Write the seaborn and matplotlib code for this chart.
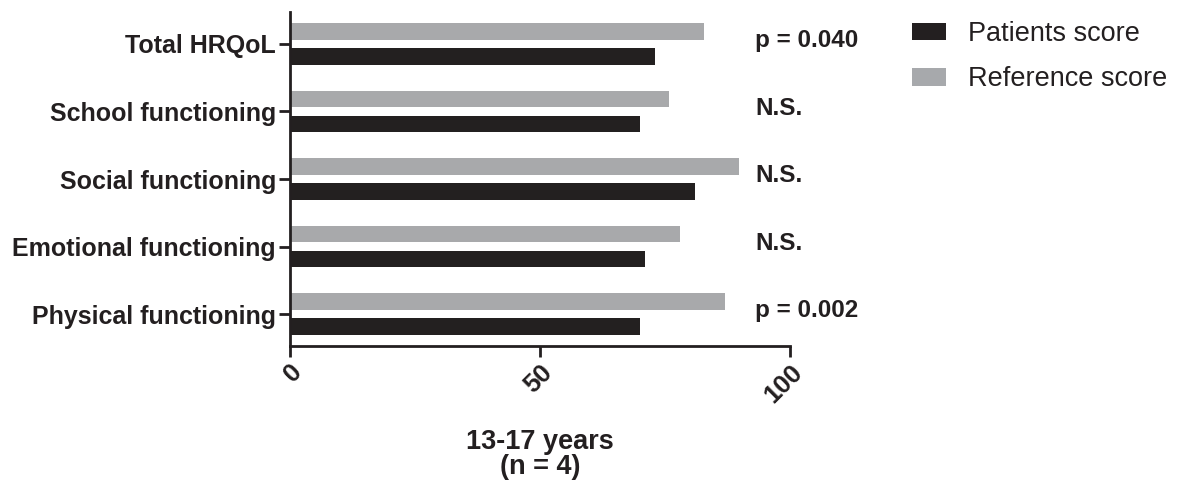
import matplotlib
matplotlib.use("Agg")
import matplotlib.pyplot as plt
import matplotlib.transforms as mtransforms
import seaborn as sns
import pandas as pd
from matplotlib.patches import Patch

categories = ["Total HRQoL", "School functioning", "Social functioning",
              "Emotional functioning", "Physical functioning"]
patients_score = [72.9, 69.9, 80.9, 70.9, 69.9]
reference_score = [82.8, 75.8, 89.8, 77.9, 86.9]
annotations = ["p = 0.040", "N.S.", "N.S.", "N.S.", "p = 0.002"]
series_names = ["Patients score", "Reference score"]
xticks = [0, 50, 100]

sns.set_theme(style="ticks")
plt.rcParams["font.family"] = ["Liberation Sans", "DejaVu Sans"]

df = pd.DataFrame({
    "category": categories * 2,
    "score": patients_score + reference_score,
    "series": [series_names[0]] * len(categories) + [series_names[1]] * len(categories),
})

colors = {"Patients score": "#231f20", "Reference score": "#a7a9ac"}

fig = plt.figure(figsize=(11.77, 4.84), dpi=100)
ax = fig.add_axes([290 / 1177, 1 - 346 / 484, 500 / 1177, (346 - 12) / 484])

sns.barplot(data=df, y="category", x="score", hue="series",
            order=categories, hue_order=["Reference score", "Patients score"],
            palette=colors, orient="h", width=0.74, gap=0.34,
            linewidth=0, errorbar=None, ax=ax, legend=False)

ax.set_xlim(0, 100)
ax.set_ylim(len(categories) - 1 + 0.47, -0.47)
ax.set_xticks(xticks)
ax.set_xticklabels([str(t) for t in xticks], rotation=45, ha="right",
                   rotation_mode="anchor", fontsize=18.5, fontweight="bold", color="#231f20")
offset = mtransforms.ScaledTranslation(-4 / 100, 0, fig.dpi_scale_trans)
for lbl in ax.get_xticklabels():
    lbl.set_transform(lbl.get_transform() + offset)
ax.set_yticks(range(len(categories)))
ax.set_yticklabels(categories, fontsize=18, fontweight="bold", color="#231f20")
ax.set_ylabel("")
ax.set_xlabel("13-17 years\n(n = 4)", fontsize=19.5, fontweight="bold",
              color="#231f20", labelpad=15.5, linespacing=0.95)

for side in ["top", "right"]:
    ax.spines[side].set_visible(False)
for side in ["left", "bottom"]:
    ax.spines[side].set_linewidth(2)
    ax.spines[side].set_color("#231f20")
ax.tick_params(axis="both", width=2, length=8, color="#231f20")
ax.tick_params(axis="x", pad=2)
ax.tick_params(axis="y", pad=2)

for i, txt in enumerate(annotations):
    ax.text(93, i - 0.05, txt, ha="left", va="center", fontsize=17.5,
            fontweight="bold", color="#231f20", clip_on=False)

handles = [Patch(facecolor=colors[n], edgecolor="none", label=n) for n in series_names]
fig.legend(handles=handles, loc="upper left", bbox_to_anchor=(912 / 1177, 1 - 21 / 484),
           frameon=False, fontsize=19.5, handlelength=1.25, handleheight=0.6,
           handletextpad=0.8, labelspacing=0.72, borderpad=0, borderaxespad=0,
           labelcolor="#231f20")

fig.savefig("out.png", dpi=100)
